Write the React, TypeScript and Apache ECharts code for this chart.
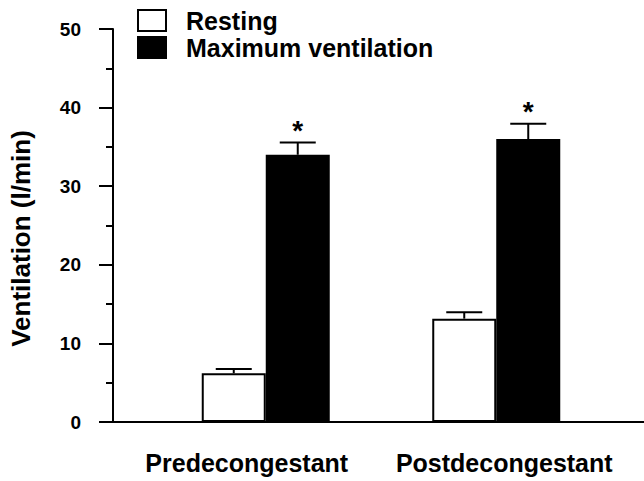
import React, { useEffect, useRef } from "react";
import * as echarts from "echarts";

const categories = ["Predecongestant", "Postdecongestant"];
const seriesNames = ["Resting", "Maximum ventilation"];
const restingValues = [6.2, 13.15];
const restingErrors = [0.55, 0.8];
const maxValues = [34.0, 36.0];
const maxErrors = [1.55, 1.95];
const maxSignificance = ["*", "*"];
const yTicks = [0, 10, 20, 30, 40, 50];

const FONT = '"Liberation Sans", Arial, Helvetica, sans-serif';
const BAR_W = 64;
const CAP_W = 36;

function errorSeries(values: number[], errs: number[], offset: number, marks: string[] | null) {
  return {
    type: "custom",
    z: 10,
    silent: true,
    data: values.map((v, i) => [i, v, errs[i], marks ? marks[i] : ""]),
    renderItem: (params: any, api: any) => {
      const idx = api.value(0);
      const v = api.value(1);
      const e = api.value(2);
      const base = api.coord([idx, v]);
      const top = api.coord([idx, v + e]);
      const x = base[0] + offset;
      const children: any[] = [
        { type: "line", shape: { x1: x, y1: base[1], x2: x, y2: top[1] }, style: { stroke: "#000", lineWidth: 2 } },
        { type: "line", shape: { x1: x - CAP_W / 2, y1: top[1], x2: x + CAP_W / 2, y2: top[1] }, style: { stroke: "#000", lineWidth: 2 } },
      ];
      const mark = marks ? marks[params.dataIndex] : "";
      if (mark) {
        children.push({
          type: "text",
          x,
          y: top[1] + 2,
          style: { text: mark, fontSize: 28, fontWeight: "bold", fontFamily: FONT, fill: "#000", align: "center", verticalAlign: "bottom" },
        });
      }
      return { type: "group", children };
    },
  };
}

export default function App() {
  const ref = useRef<HTMLDivElement>(null);
  useEffect(() => {
    if (!ref.current) return;
    const chart = echarts.init(ref.current, null, { renderer: "svg" });
    chart.setOption({
      animation: false,
      backgroundColor: "#fff",
      grid: { left: 149.5, right: 32.5, top: 29, bottom: 59 },
      legend: {
        orient: "vertical",
        left: 137,
        top: 8,
        padding: 0,
        itemWidth: 28,
        itemHeight: 21,
        itemGap: 2,
        icon: "rect",
        data: seriesNames,
        textStyle: { fontSize: 25, fontWeight: "bold", fontFamily: FONT, color: "#000", lineHeight: 21, padding: [2, 0, 0, 15] },
      },
      xAxis: {
        type: "category",
        data: categories,
        axisLine: { show: false },
        axisTick: { show: false },
        axisLabel: {
          margin: 28,
          formatter: (val: string, i: number) => (i === 0 ? `{a|${val}}` : `{b|${val}}`),
          rich: {
            a: { fontSize: 25, fontWeight: "bold", fontFamily: FONT, color: "#000", padding: [0, 38, 0, 0] },
            b: { fontSize: 25, fontWeight: "bold", fontFamily: FONT, color: "#000", padding: [0, 0, 0, 16] },
          },
        },
      },
      yAxis: {
        type: "value",
        min: yTicks[0],
        max: yTicks[yTicks.length - 1],
        interval: 10,
        offset: 37.5,
        name: "Ventilation (l/min)",
        nameLocation: "middle",
        nameRotate: 90,
        nameGap: 79,
        nameTextStyle: { fontSize: 26, fontWeight: "bold", fontFamily: FONT, color: "#000", padding: [0, 26, 0, 0] },
        splitLine: { show: false },
        axisLine: { show: true, lineStyle: { color: "#000", width: 2 } },
        axisTick: { show: true, length: 14, lineStyle: { color: "#000", width: 2 } },
        minorTick: { show: true, splitNumber: 2, length: 7, lineStyle: { color: "#000", width: 2 } },
        axisLabel: { margin: 32, fontSize: 19, fontWeight: "bold", fontFamily: FONT, color: "#000" },
      },
      graphic: [
        { type: "line", shape: { x1: 99, y1: 422, x2: 644, y2: 422 }, style: { stroke: "#000", lineWidth: 2 }, z: 100 },
      ],
      series: [
        {
          name: seriesNames[0],
          type: "bar",
          data: restingValues,
          barWidth: BAR_W,
          barGap: "0%",
          itemStyle: { color: "#fff", borderColor: "#000", borderWidth: 2 },
        },
        {
          name: seriesNames[1],
          type: "bar",
          data: maxValues,
          barWidth: BAR_W,
          barGap: "0%",
          itemStyle: { color: "#000", borderColor: "#000", borderWidth: 2 },
        },
        errorSeries(restingValues, restingErrors, -BAR_W / 2, null),
        errorSeries(maxValues, maxErrors, BAR_W / 2, maxSignificance),
      ],
    });
    return () => chart.dispose();
  }, []);
  return <div ref={ref} style={{ width: 644, height: 481, position: "absolute", left: 0, top: 0 }} />;
}
